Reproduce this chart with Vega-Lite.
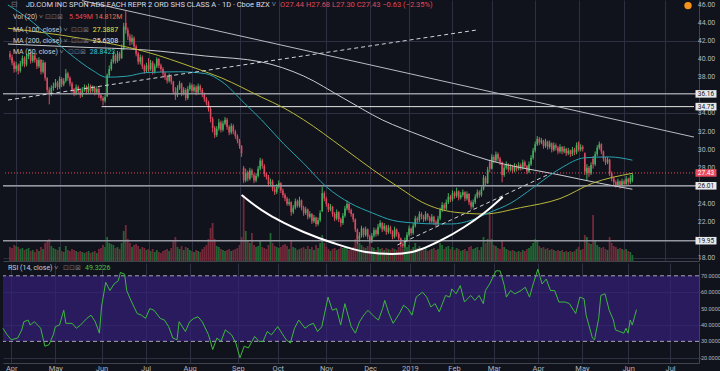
{
"$schema": "https://vega.github.io/schema/vega-lite/v6.json",
"background": "#11131c",
"padding": 0,
"config": {
  "view": {"stroke": null},
  "axis": {"gridColor": "#2c3040", "domainColor": "#40444f", "labelColor": "#b2b5be", "labelFont": "Roboto", "labelFontSize": 7, "tickColor": "#40444f"},
  "text": {"font": "Roboto"}
},
"datasets": {
"candles": [
{"i":-3,"o":40.6,"h":40.9,"l":39.9,"c":40.2,"v":14},
{"i":-2,"o":40.2,"h":40.5,"l":39.3,"c":39.6,"v":13},
{"i":-1,"o":39.6,"h":39.8,"l":38.5,"c":38.9,"v":16},
{"i":0,"o":38.9,"h":39.7,"l":38.6,"c":39.3,"v":15},
{"i":1,"o":39.3,"h":39.5,"l":38.3,"c":38.7,"v":14},
{"i":2,"o":38.7,"h":39.8,"l":38.5,"c":39.5,"v":12},
{"i":3,"o":39.5,"h":40.4,"l":39.2,"c":40.1,"v":13},
{"i":4,"o":40.1,"h":40.3,"l":39.1,"c":39.4,"v":11},
{"i":5,"o":39.4,"h":40.6,"l":39.2,"c":40.3,"v":12},
{"i":6,"o":40.3,"h":41.0,"l":40.0,"c":40.6,"v":13},
{"i":7,"o":40.6,"h":40.8,"l":39.5,"c":39.8,"v":10},
{"i":8,"o":39.8,"h":40.7,"l":39.6,"c":40.4,"v":11},
{"i":9,"o":40.4,"h":40.6,"l":39.6,"c":39.9,"v":9},
{"i":10,"o":39.9,"h":40.1,"l":38.9,"c":39.2,"v":12},
{"i":11,"o":39.2,"h":40.2,"l":39.0,"c":39.9,"v":10},
{"i":12,"o":39.9,"h":40.0,"l":38.3,"c":38.6,"v":14},
{"i":13,"o":38.6,"h":39.9,"l":38.4,"c":39.6,"v":12},
{"i":14,"o":39.6,"h":39.7,"l":37.6,"c":37.9,"v":18},
{"i":15,"o":37.9,"h":38.0,"l":36.3,"c":36.6,"v":20},
{"i":16,"o":36.6,"h":36.9,"l":35.0,"c":36.2,"v":22},
{"i":17,"o":36.2,"h":37.1,"l":35.9,"c":36.8,"v":15},
{"i":18,"o":36.8,"h":37.4,"l":36.5,"c":37.0,"v":13},
{"i":19,"o":37.0,"h":37.8,"l":36.8,"c":37.4,"v":12},
{"i":20,"o":37.4,"h":37.6,"l":36.6,"c":36.9,"v":11},
{"i":21,"o":36.9,"h":38.1,"l":36.7,"c":37.8,"v":14},
{"i":22,"o":37.8,"h":38.0,"l":36.9,"c":37.2,"v":10},
{"i":23,"o":37.2,"h":37.9,"l":37.0,"c":37.6,"v":9},
{"i":24,"o":37.6,"h":38.9,"l":37.4,"c":38.4,"v":15},
{"i":25,"o":38.4,"h":38.6,"l":37.6,"c":37.9,"v":11},
{"i":26,"o":37.9,"h":38.1,"l":37.0,"c":37.3,"v":10},
{"i":27,"o":37.3,"h":37.5,"l":36.3,"c":36.6,"v":12},
{"i":28,"o":36.6,"h":36.8,"l":35.9,"c":36.2,"v":11},
{"i":29,"o":36.2,"h":37.2,"l":36.0,"c":36.9,"v":10},
{"i":30,"o":36.9,"h":37.1,"l":36.1,"c":36.4,"v":9},
{"i":31,"o":36.4,"h":36.6,"l":35.7,"c":36.0,"v":10},
{"i":32,"o":36.0,"h":36.9,"l":35.8,"c":36.6,"v":9},
{"i":33,"o":36.6,"h":37.2,"l":36.4,"c":36.9,"v":8},
{"i":34,"o":36.9,"h":37.1,"l":36.1,"c":36.4,"v":9},
{"i":35,"o":36.4,"h":37.3,"l":36.2,"c":37.0,"v":10},
{"i":36,"o":37.0,"h":37.2,"l":36.2,"c":36.5,"v":8},
{"i":37,"o":36.5,"h":37.1,"l":36.3,"c":36.8,"v":9},
{"i":38,"o":36.8,"h":37.0,"l":36.0,"c":36.3,"v":10},
{"i":39,"o":36.3,"h":37.0,"l":36.1,"c":36.7,"v":8},
{"i":40,"o":36.7,"h":36.9,"l":35.7,"c":36.0,"v":12},
{"i":41,"o":36.0,"h":36.2,"l":35.4,"c":35.7,"v":13},
{"i":42,"o":35.7,"h":35.9,"l":34.9,"c":35.4,"v":16},
{"i":43,"o":35.4,"h":36.1,"l":35.2,"c":35.8,"v":14},
{"i":44,"o":35.9,"h":38.4,"l":35.8,"c":38.2,"v":24},
{"i":45,"o":38.2,"h":39.3,"l":38.0,"c":38.9,"v":18},
{"i":46,"o":38.9,"h":40.0,"l":38.7,"c":39.7,"v":17},
{"i":47,"o":39.7,"h":40.8,"l":39.5,"c":40.4,"v":16},
{"i":48,"o":40.4,"h":40.6,"l":39.5,"c":39.8,"v":13},
{"i":49,"o":39.8,"h":40.9,"l":39.6,"c":40.6,"v":14},
{"i":50,"o":40.6,"h":40.8,"l":39.8,"c":40.1,"v":12},
{"i":51,"o":40.1,"h":41.6,"l":40.0,"c":41.2,"v":18},
{"i":52,"o":41.2,"h":44.0,"l":41.0,"c":43.6,"v":30},
{"i":53,"o":44.0,"h":45.3,"l":42.8,"c":43.2,"v":36},
{"i":54,"o":43.2,"h":43.5,"l":42.1,"c":42.5,"v":22},
{"i":55,"o":42.5,"h":42.8,"l":41.5,"c":41.9,"v":18},
{"i":56,"o":41.9,"h":42.7,"l":41.6,"c":42.3,"v":14},
{"i":57,"o":42.3,"h":42.5,"l":41.1,"c":41.4,"v":16},
{"i":58,"o":41.4,"h":41.6,"l":40.3,"c":40.6,"v":17},
{"i":59,"o":40.6,"h":40.8,"l":39.4,"c":39.7,"v":15},
{"i":60,"o":39.7,"h":40.5,"l":39.4,"c":40.2,"v":12},
{"i":61,"o":40.2,"h":40.4,"l":38.9,"c":39.2,"v":14},
{"i":62,"o":39.2,"h":39.4,"l":38.4,"c":38.7,"v":13},
{"i":63,"o":38.7,"h":39.6,"l":38.5,"c":39.3,"v":11},
{"i":64,"o":39.3,"h":40.1,"l":38.6,"c":38.9,"v":12},
{"i":65,"o":38.9,"h":39.9,"l":38.7,"c":39.6,"v":10},
{"i":66,"o":39.6,"h":39.8,"l":38.3,"c":38.6,"v":12},
{"i":67,"o":38.6,"h":39.5,"l":38.4,"c":39.2,"v":9},
{"i":68,"o":39.2,"h":40.2,"l":39.0,"c":40.0,"v":11},
{"i":69,"o":40.0,"h":40.1,"l":39.0,"c":39.3,"v":9},
{"i":70,"o":39.3,"h":39.5,"l":38.6,"c":38.9,"v":8},
{"i":71,"o":38.9,"h":39.1,"l":38.1,"c":38.4,"v":10},
{"i":72,"o":38.4,"h":38.6,"l":37.7,"c":38.0,"v":11},
{"i":73,"o":38.0,"h":38.2,"l":37.3,"c":37.6,"v":12},
{"i":74,"o":37.6,"h":38.4,"l":37.4,"c":38.1,"v":10},
{"i":75,"o":38.1,"h":38.3,"l":37.2,"c":37.5,"v":13},
{"i":76,"o":37.5,"h":37.6,"l":36.1,"c":36.4,"v":20},
{"i":77,"o":36.4,"h":36.9,"l":35.5,"c":36.0,"v":24},
{"i":78,"o":36.0,"h":37.1,"l":35.8,"c":36.8,"v":14},
{"i":79,"o":36.8,"h":37.6,"l":36.6,"c":37.3,"v":12},
{"i":80,"o":37.3,"h":37.4,"l":35.9,"c":36.2,"v":15},
{"i":81,"o":36.2,"h":36.9,"l":36.0,"c":36.6,"v":11},
{"i":82,"o":36.6,"h":36.8,"l":35.4,"c":35.7,"v":14},
{"i":83,"o":35.7,"h":37.0,"l":35.5,"c":36.7,"v":13},
{"i":84,"o":36.7,"h":37.4,"l":36.5,"c":37.1,"v":11},
{"i":85,"o":37.1,"h":37.3,"l":36.2,"c":36.5,"v":10},
{"i":86,"o":36.5,"h":37.2,"l":36.3,"c":36.9,"v":9},
{"i":87,"o":36.9,"h":37.1,"l":36.0,"c":36.3,"v":11},
{"i":88,"o":36.3,"h":37.3,"l":36.1,"c":37.0,"v":10},
{"i":89,"o":37.0,"h":37.2,"l":36.3,"c":36.6,"v":9},
{"i":90,"o":36.6,"h":36.8,"l":35.8,"c":36.1,"v":12},
{"i":91,"o":36.1,"h":36.3,"l":35.3,"c":35.6,"v":14},
{"i":92,"o":35.6,"h":35.8,"l":34.9,"c":35.2,"v":16},
{"i":93,"o":35.2,"h":35.4,"l":34.2,"c":34.5,"v":22},
{"i":94,"o":34.5,"h":34.7,"l":33.0,"c":33.4,"v":33},
{"i":95,"o":33.4,"h":33.6,"l":31.9,"c":32.4,"v":38},
{"i":96,"o":32.4,"h":32.6,"l":31.3,"c":31.6,"v":22},
{"i":97,"o":31.6,"h":32.6,"l":31.4,"c":32.3,"v":15},
{"i":98,"o":32.3,"h":33.4,"l":32.1,"c":33.0,"v":14},
{"i":99,"o":33.0,"h":33.2,"l":31.9,"c":32.2,"v":12},
{"i":100,"o":32.2,"h":33.2,"l":32.0,"c":32.9,"v":11},
{"i":101,"o":32.9,"h":33.6,"l":32.7,"c":33.3,"v":10},
{"i":102,"o":33.3,"h":33.5,"l":32.2,"c":32.5,"v":11},
{"i":103,"o":32.5,"h":32.7,"l":31.6,"c":31.9,"v":12},
{"i":104,"o":31.9,"h":32.9,"l":31.7,"c":32.6,"v":10},
{"i":105,"o":32.6,"h":32.8,"l":31.7,"c":32.0,"v":11},
{"i":106,"o":32.0,"h":32.2,"l":31.2,"c":31.5,"v":12},
{"i":107,"o":31.5,"h":31.7,"l":30.7,"c":31.0,"v":13},
{"i":108,"o":31.0,"h":31.2,"l":30.1,"c":30.4,"v":16},
{"i":109,"o":30.4,"h":30.5,"l":29.2,"c":29.6,"v":24},
{"i":110,"o":28.0,"h":28.2,"l":26.3,"c":26.6,"v":66},
{"i":111,"o":26.6,"h":27.9,"l":26.4,"c":27.5,"v":30},
{"i":112,"o":27.5,"h":27.7,"l":26.5,"c":26.8,"v":20},
{"i":113,"o":26.8,"h":28.0,"l":26.6,"c":27.7,"v":18},
{"i":114,"o":27.7,"h":27.9,"l":26.9,"c":27.2,"v":28},
{"i":115,"o":27.2,"h":27.4,"l":26.3,"c":26.6,"v":16},
{"i":116,"o":26.6,"h":27.4,"l":26.4,"c":27.1,"v":14},
{"i":117,"o":27.1,"h":28.2,"l":26.9,"c":27.9,"v":15},
{"i":118,"o":27.9,"h":29.1,"l":27.7,"c":28.8,"v":20},
{"i":119,"o":28.8,"h":29.0,"l":27.9,"c":28.2,"v":14},
{"i":120,"o":28.2,"h":28.4,"l":27.0,"c":27.3,"v":13},
{"i":121,"o":27.3,"h":27.5,"l":26.7,"c":27.0,"v":12},
{"i":122,"o":27.0,"h":27.2,"l":25.9,"c":26.2,"v":16},
{"i":123,"o":26.2,"h":26.8,"l":26.0,"c":26.5,"v":28},
{"i":124,"o":26.5,"h":26.7,"l":25.4,"c":25.7,"v":18},
{"i":125,"o":25.7,"h":25.9,"l":25.0,"c":25.3,"v":15},
{"i":126,"o":25.3,"h":26.2,"l":25.1,"c":25.9,"v":14},
{"i":127,"o":25.9,"h":26.6,"l":25.7,"c":26.3,"v":13},
{"i":128,"o":26.3,"h":26.4,"l":25.2,"c":25.5,"v":14},
{"i":129,"o":25.5,"h":25.7,"l":24.7,"c":25.0,"v":16},
{"i":130,"o":25.0,"h":25.2,"l":24.3,"c":24.6,"v":17},
{"i":131,"o":24.6,"h":24.8,"l":23.8,"c":24.0,"v":15},
{"i":132,"o":24.0,"h":24.6,"l":23.8,"c":24.2,"v":12},
{"i":133,"o":24.2,"h":24.3,"l":22.7,"c":23.1,"v":20},
{"i":134,"o":23.1,"h":23.9,"l":22.9,"c":23.6,"v":14},
{"i":135,"o":23.6,"h":24.6,"l":23.4,"c":24.3,"v":13},
{"i":136,"o":24.3,"h":24.5,"l":23.6,"c":23.8,"v":11},
{"i":137,"o":23.8,"h":24.8,"l":23.6,"c":24.4,"v":12},
{"i":138,"o":24.4,"h":24.5,"l":23.3,"c":23.6,"v":13},
{"i":139,"o":23.6,"h":23.8,"l":22.7,"c":23.0,"v":14},
{"i":140,"o":23.0,"h":23.7,"l":22.8,"c":23.4,"v":12},
{"i":141,"o":23.4,"h":23.5,"l":22.3,"c":22.6,"v":15},
{"i":142,"o":22.6,"h":23.2,"l":22.4,"c":22.9,"v":12},
{"i":143,"o":22.9,"h":23.0,"l":21.8,"c":22.1,"v":14},
{"i":144,"o":22.1,"h":22.8,"l":21.9,"c":22.5,"v":11},
{"i":145,"o":22.5,"h":22.6,"l":21.5,"c":21.8,"v":16},
{"i":146,"o":21.8,"h":22.5,"l":21.6,"c":22.2,"v":13},
{"i":147,"o":22.2,"h":23.3,"l":22.0,"c":23.0,"v":18},
{"i":148,"o":23.2,"h":25.9,"l":23.1,"c":25.2,"v":26},
{"i":149,"o":25.2,"h":25.4,"l":24.3,"c":24.6,"v":18},
{"i":150,"o":24.6,"h":24.8,"l":23.7,"c":24.0,"v":14},
{"i":151,"o":24.0,"h":24.1,"l":23.1,"c":23.4,"v":12},
{"i":152,"o":23.4,"h":24.0,"l":23.2,"c":23.7,"v":10},
{"i":153,"o":23.7,"h":23.8,"l":22.6,"c":22.9,"v":12},
{"i":154,"o":22.9,"h":23.1,"l":22.1,"c":22.4,"v":13},
{"i":155,"o":22.4,"h":23.4,"l":22.2,"c":23.1,"v":11},
{"i":156,"o":23.1,"h":23.2,"l":22.0,"c":22.3,"v":12},
{"i":157,"o":22.3,"h":22.5,"l":21.5,"c":21.9,"v":14},
{"i":158,"o":21.9,"h":23.0,"l":21.7,"c":22.7,"v":13},
{"i":159,"o":22.7,"h":23.8,"l":22.5,"c":23.5,"v":15},
{"i":160,"o":23.5,"h":24.4,"l":23.3,"c":24.0,"v":14},
{"i":161,"o":24.0,"h":24.1,"l":23.0,"c":23.3,"v":11},
{"i":162,"o":23.3,"h":23.5,"l":22.6,"c":22.9,"v":12},
{"i":163,"o":22.9,"h":23.0,"l":22.0,"c":22.3,"v":14},
{"i":164,"o":22.3,"h":22.4,"l":20.9,"c":21.2,"v":22},
{"i":165,"o":21.2,"h":21.3,"l":19.6,"c":20.1,"v":26},
{"i":166,"o":20.1,"h":20.9,"l":19.8,"c":20.5,"v":18},
{"i":167,"o":20.5,"h":21.6,"l":20.3,"c":21.3,"v":16},
{"i":168,"o":21.3,"h":21.4,"l":20.3,"c":20.6,"v":14},
{"i":169,"o":20.6,"h":21.5,"l":20.4,"c":21.2,"v":13},
{"i":170,"o":21.2,"h":21.3,"l":20.1,"c":20.4,"v":15},
{"i":171,"o":20.4,"h":20.6,"l":19.6,"c":19.9,"v":17},
{"i":172,"o":19.9,"h":20.8,"l":19.7,"c":20.5,"v":14},
{"i":173,"o":20.5,"h":21.4,"l":20.3,"c":21.1,"v":13},
{"i":174,"o":21.1,"h":21.3,"l":20.4,"c":20.7,"v":11},
{"i":175,"o":20.7,"h":21.8,"l":20.5,"c":21.5,"v":14},
{"i":176,"o":21.5,"h":22.2,"l":21.3,"c":21.9,"v":12},
{"i":177,"o":21.9,"h":22.0,"l":20.9,"c":21.2,"v":13},
{"i":178,"o":21.2,"h":21.9,"l":21.0,"c":21.6,"v":11},
{"i":179,"o":21.6,"h":21.7,"l":20.6,"c":20.9,"v":13},
{"i":180,"o":20.9,"h":21.7,"l":20.7,"c":21.4,"v":12},
{"i":181,"o":21.4,"h":21.6,"l":20.7,"c":21.0,"v":11},
{"i":182,"o":21.0,"h":21.1,"l":20.1,"c":20.4,"v":13},
{"i":183,"o":20.4,"h":21.5,"l":20.2,"c":21.2,"v":12},
{"i":184,"o":21.2,"h":21.3,"l":20.4,"c":20.7,"v":11},
{"i":185,"o":20.7,"h":20.9,"l":19.9,"c":20.2,"v":14},
{"i":186,"o":20.2,"h":20.3,"l":19.3,"c":19.6,"v":16},
{"i":187,"o":19.6,"h":19.8,"l":19.1,"c":19.4,"v":12},
{"i":188,"o":19.4,"h":20.3,"l":19.2,"c":20.0,"v":15},
{"i":189,"o":20.0,"h":20.9,"l":19.8,"c":20.6,"v":14},
{"i":190,"o":20.6,"h":21.6,"l":20.4,"c":21.3,"v":16},
{"i":191,"o":21.3,"h":21.4,"l":20.5,"c":20.8,"v":12},
{"i":192,"o":20.8,"h":21.9,"l":20.6,"c":21.6,"v":14},
{"i":193,"o":21.6,"h":22.7,"l":21.4,"c":22.4,"v":18},
{"i":194,"o":22.4,"h":22.6,"l":21.9,"c":22.2,"v":13},
{"i":195,"o":22.2,"h":23.2,"l":22.0,"c":22.9,"v":15},
{"i":196,"o":22.9,"h":23.1,"l":22.3,"c":22.6,"v":12},
{"i":197,"o":22.6,"h":22.8,"l":22.0,"c":22.3,"v":11},
{"i":198,"o":22.3,"h":23.2,"l":22.1,"c":22.9,"v":13},
{"i":199,"o":22.9,"h":23.0,"l":22.2,"c":22.5,"v":10},
{"i":200,"o":22.5,"h":22.7,"l":21.8,"c":22.1,"v":11},
{"i":201,"o":22.1,"h":22.9,"l":21.9,"c":22.6,"v":12},
{"i":202,"o":22.6,"h":22.7,"l":21.7,"c":22.0,"v":13},
{"i":203,"o":22.0,"h":22.2,"l":21.5,"c":21.8,"v":11},
{"i":204,"o":21.8,"h":22.7,"l":21.6,"c":22.4,"v":12},
{"i":205,"o":22.4,"h":23.6,"l":22.2,"c":23.3,"v":18},
{"i":206,"o":23.3,"h":24.2,"l":23.1,"c":23.9,"v":16},
{"i":207,"o":23.9,"h":24.1,"l":23.2,"c":23.5,"v":12},
{"i":208,"o":23.5,"h":24.5,"l":23.3,"c":24.2,"v":14},
{"i":209,"o":24.2,"h":25.2,"l":24.0,"c":24.8,"v":15},
{"i":210,"o":24.8,"h":25.0,"l":24.2,"c":24.5,"v":12},
{"i":211,"o":24.5,"h":25.5,"l":24.3,"c":25.2,"v":14},
{"i":212,"o":25.2,"h":25.4,"l":24.6,"c":24.9,"v":11},
{"i":213,"o":24.9,"h":25.8,"l":24.7,"c":25.4,"v":13},
{"i":214,"o":25.4,"h":25.5,"l":24.4,"c":24.7,"v":12},
{"i":215,"o":24.7,"h":25.3,"l":24.5,"c":25.0,"v":10},
{"i":216,"o":25.0,"h":25.6,"l":24.8,"c":25.3,"v":11},
{"i":217,"o":25.3,"h":25.4,"l":24.3,"c":24.6,"v":12},
{"i":218,"o":24.6,"h":25.4,"l":24.4,"c":25.1,"v":10},
{"i":219,"o":25.1,"h":25.2,"l":23.9,"c":24.2,"v":14},
{"i":220,"o":24.2,"h":24.4,"l":23.4,"c":23.7,"v":15},
{"i":221,"o":23.7,"h":24.5,"l":23.5,"c":24.2,"v":12},
{"i":222,"o":24.2,"h":25.1,"l":24.0,"c":24.8,"v":13},
{"i":223,"o":24.8,"h":25.6,"l":24.6,"c":25.3,"v":14},
{"i":224,"o":25.3,"h":25.5,"l":24.7,"c":25.0,"v":11},
{"i":225,"o":25.0,"h":25.9,"l":24.8,"c":25.6,"v":14},
{"i":226,"o":25.6,"h":27.2,"l":25.5,"c":26.9,"v":24},
{"i":227,"o":26.9,"h":27.1,"l":26.0,"c":26.3,"v":18},
{"i":228,"o":26.3,"h":28.1,"l":26.2,"c":27.8,"v":22},
{"i":229,"o":28.6,"h":28.9,"l":27.5,"c":27.9,"v":48},
{"i":230,"o":27.9,"h":29.5,"l":27.8,"c":29.2,"v":22},
{"i":231,"o":29.2,"h":29.4,"l":28.5,"c":28.8,"v":16},
{"i":232,"o":28.8,"h":29.8,"l":28.6,"c":29.5,"v":15},
{"i":233,"o":29.5,"h":29.7,"l":28.7,"c":29.0,"v":13},
{"i":234,"o":29.0,"h":29.2,"l":28.3,"c":28.6,"v":12},
{"i":235,"o":28.6,"h":28.7,"l":26.4,"c":27.2,"v":20},
{"i":236,"o":27.2,"h":28.3,"l":27.0,"c":28.0,"v":14},
{"i":237,"o":28.0,"h":28.7,"l":27.8,"c":28.4,"v":12},
{"i":238,"o":28.4,"h":28.5,"l":27.5,"c":27.8,"v":11},
{"i":239,"o":27.8,"h":28.4,"l":27.6,"c":28.1,"v":10},
{"i":240,"o":28.1,"h":28.3,"l":27.4,"c":27.7,"v":11},
{"i":241,"o":27.7,"h":28.5,"l":27.5,"c":28.2,"v":10},
{"i":242,"o":28.2,"h":28.4,"l":27.6,"c":27.9,"v":9},
{"i":243,"o":27.9,"h":28.6,"l":27.7,"c":28.3,"v":10},
{"i":244,"o":28.3,"h":28.5,"l":27.7,"c":28.0,"v":9},
{"i":245,"o":28.0,"h":28.9,"l":27.8,"c":28.6,"v":11},
{"i":246,"o":28.6,"h":28.8,"l":27.9,"c":28.2,"v":10},
{"i":247,"o":28.2,"h":28.3,"l":27.3,"c":27.6,"v":12},
{"i":248,"o":27.6,"h":28.7,"l":27.4,"c":28.4,"v":13},
{"i":249,"o":28.4,"h":29.4,"l":28.2,"c":29.1,"v":15},
{"i":250,"o":29.1,"h":30.2,"l":28.9,"c":29.9,"v":18},
{"i":251,"o":29.9,"h":30.9,"l":29.7,"c":30.6,"v":22},
{"i":252,"o":30.6,"h":31.5,"l":30.4,"c":31.2,"v":20},
{"i":253,"o":31.2,"h":31.4,"l":30.5,"c":30.8,"v":15},
{"i":254,"o":30.8,"h":31.3,"l":30.6,"c":31.0,"v":13},
{"i":255,"o":31.0,"h":31.1,"l":30.1,"c":30.4,"v":14},
{"i":256,"o":30.4,"h":31.2,"l":30.2,"c":30.9,"v":12},
{"i":257,"o":30.9,"h":31.0,"l":30.0,"c":30.3,"v":13},
{"i":258,"o":30.3,"h":31.0,"l":30.1,"c":30.7,"v":11},
{"i":259,"o":30.7,"h":30.8,"l":29.7,"c":30.0,"v":12},
{"i":260,"o":30.0,"h":30.8,"l":29.8,"c":30.5,"v":11},
{"i":261,"o":30.5,"h":30.7,"l":29.9,"c":30.2,"v":10},
{"i":262,"o":30.2,"h":30.4,"l":29.5,"c":29.8,"v":11},
{"i":263,"o":29.8,"h":30.6,"l":29.6,"c":30.3,"v":10},
{"i":264,"o":30.3,"h":30.4,"l":29.5,"c":29.8,"v":11},
{"i":265,"o":29.8,"h":30.4,"l":29.6,"c":30.1,"v":9},
{"i":266,"o":30.1,"h":30.2,"l":29.3,"c":29.6,"v":10},
{"i":267,"o":29.6,"h":30.2,"l":29.4,"c":29.9,"v":9},
{"i":268,"o":29.9,"h":30.0,"l":29.2,"c":29.5,"v":10},
{"i":269,"o":29.5,"h":30.3,"l":29.3,"c":30.0,"v":9},
{"i":270,"o":30.0,"h":30.2,"l":29.4,"c":29.7,"v":10},
{"i":271,"o":29.7,"h":30.8,"l":29.5,"c":30.5,"v":12},
{"i":272,"o":30.8,"h":30.9,"l":29.8,"c":30.0,"v":14},
{"i":273,"o":30.0,"h":30.6,"l":29.8,"c":30.3,"v":11},
{"i":274,"o":30.3,"h":30.5,"l":29.8,"c":30.1,"v":12},
{"i":275,"o":29.6,"h":29.7,"l":27.2,"c":27.6,"v":26},
{"i":276,"o":27.4,"h":28.4,"l":26.6,"c":28.0,"v":24},
{"i":277,"o":28.0,"h":28.2,"l":27.0,"c":27.4,"v":18},
{"i":278,"o":27.4,"h":28.6,"l":27.2,"c":28.3,"v":17},
{"i":279,"o":29.0,"h":29.3,"l":27.9,"c":28.4,"v":46},
{"i":280,"o":28.4,"h":29.8,"l":28.2,"c":29.5,"v":20},
{"i":281,"o":29.5,"h":30.5,"l":29.3,"c":30.2,"v":16},
{"i":282,"o":30.2,"h":30.9,"l":30.0,"c":30.6,"v":14},
{"i":283,"o":30.6,"h":30.7,"l":29.5,"c":29.8,"v":13},
{"i":284,"o":29.8,"h":29.9,"l":28.7,"c":29.0,"v":14},
{"i":285,"o":29.0,"h":29.2,"l":28.3,"c":28.6,"v":12},
{"i":286,"o":28.6,"h":29.2,"l":28.4,"c":28.9,"v":11},
{"i":287,"o":28.9,"h":29.0,"l":27.1,"c":27.4,"v":24},
{"i":288,"o":27.4,"h":27.6,"l":26.5,"c":26.8,"v":18},
{"i":289,"o":26.8,"h":27.0,"l":26.1,"c":26.4,"v":15},
{"i":290,"o":26.4,"h":26.6,"l":25.8,"c":26.1,"v":14},
{"i":291,"o":26.1,"h":26.8,"l":25.9,"c":26.5,"v":12},
{"i":292,"o":26.5,"h":26.6,"l":25.7,"c":26.0,"v":13},
{"i":293,"o":26.0,"h":26.8,"l":25.8,"c":26.5,"v":12},
{"i":294,"o":26.5,"h":26.7,"l":25.9,"c":26.2,"v":11},
{"i":295,"o":26.2,"h":27.1,"l":26.0,"c":26.8,"v":12},
{"i":296,"o":26.8,"h":26.9,"l":26.1,"c":26.4,"v":10},
{"i":297,"o":26.4,"h":27.2,"l":26.2,"c":26.9,"v":9},
{"i":298,"o":26.6,"h":27.4,"l":26.4,"c":27.2,"v":6}
],
"ma50": [{"i":-4,"p":45.97},{"i":5.6,"p":44.5},{"i":16.5,"p":42.4},{"i":28,"p":40.2},{"i":36.6,"p":38.8},{"i":43.7,"p":38.0},{"i":53.3,"p":38.1},{"i":62.8,"p":38.5},{"i":78.5,"p":38.6},{"i":91.4,"p":38.4},{"i":99.5,"p":37.5},{"i":110.5,"p":35.1},{"i":118.6,"p":33.3},{"i":129.5,"p":30.6},{"i":139,"p":28.5},{"i":150,"p":25.9},{"i":161.5,"p":24.1},{"i":172.4,"p":23.0},{"i":182,"p":22.2},{"i":193,"p":21.9},{"i":203.4,"p":21.8},{"i":210.6,"p":21.8},{"i":220,"p":22.2},{"i":228.2,"p":23.0},{"i":239.2,"p":24.1},{"i":250,"p":25.8},{"i":263,"p":27.9},{"i":274.9,"p":29.1},{"i":286.9,"p":29.2},{"i":298,"p":28.84}],
"ma100": [{"i":-4,"p":43.4},{"i":31,"p":42.3},{"i":62.8,"p":40.8},{"i":86.6,"p":39.0},{"i":99.5,"p":37.9},{"i":118.6,"p":35.8},{"i":129.5,"p":34.6},{"i":139,"p":33.3},{"i":158.1,"p":30.2},{"i":172.4,"p":27.8},{"i":185.3,"p":25.8},{"i":196.3,"p":24.2},{"i":212,"p":23.1},{"i":226.3,"p":22.9},{"i":243.9,"p":23.6},{"i":263,"p":24.6},{"i":278.8,"p":26.3},{"i":298,"p":27.39}],
"ma200": [{"i":-4,"p":41.66},{"i":29.4,"p":41.33},{"i":62.8,"p":41.0},{"i":91.4,"p":40.34},{"i":118.6,"p":39.68},{"i":139,"p":38.13},{"i":158.1,"p":35.7},{"i":177.2,"p":33.27},{"i":196.3,"p":31.5},{"i":228.2,"p":28.85},{"i":263,"p":27.2},{"i":282.1,"p":26.3},{"i":298,"p":25.63}],
"arc": [{"i":109.0,"p":25.0},{"i":115.2,"p":23.89},{"i":122.4,"p":22.79},{"i":129.5,"p":21.91},{"i":139.0,"p":20.91},{"i":153.3,"p":19.7},{"i":169.1,"p":18.71},{"i":181.9,"p":18.48},{"i":191.5,"p":18.71},{"i":196.2,"p":19.04},{"i":205.8,"p":20.03},{"i":216.7,"p":21.46},{"i":226.3,"p":23.01},{"i":235.3,"p":24.78}],
"rsi": [{"i":-4,"r":38},{"i":-2,"r":34},{"i":0,"r":31},{"i":3,"r":32},{"i":5,"r":37},{"i":6,"r":42},{"i":8,"r":43},{"i":9,"r":40},{"i":11,"r":42},{"i":14,"r":38},{"i":16,"r":27},{"i":18,"r":28},{"i":20,"r":34},{"i":21,"r":39},{"i":23,"r":40},{"i":25,"r":49},{"i":26,"r":41},{"i":29,"r":41},{"i":31,"r":38},{"i":33,"r":40},{"i":36,"r":44},{"i":38,"r":46},{"i":40,"r":42},{"i":42,"r":35},{"i":43,"r":51},{"i":45,"r":66},{"i":47,"r":61},{"i":49,"r":65},{"i":51,"r":67},{"i":52,"r":72},{"i":54,"r":71},{"i":55,"r":61},{"i":57,"r":55},{"i":60,"r":47},{"i":62,"r":46},{"i":64,"r":44},{"i":66,"r":50},{"i":68,"r":49},{"i":71,"r":44},{"i":73,"r":43},{"i":75,"r":39},{"i":77,"r":32},{"i":79,"r":31},{"i":80,"r":42},{"i":83,"r":36},{"i":85,"r":42},{"i":87,"r":44},{"i":89,"r":45},{"i":91,"r":42},{"i":94,"r":34},{"i":96,"r":25},{"i":98,"r":32},{"i":100,"r":30},{"i":102,"r":37},{"i":105,"r":34},{"i":107,"r":29},{"i":109,"r":20},{"i":111,"r":27},{"i":113,"r":26},{"i":116,"r":33},{"i":118,"r":30},{"i":120,"r":30},{"i":122,"r":36},{"i":124,"r":34},{"i":127,"r":39},{"i":129,"r":35},{"i":131,"r":31},{"i":133,"r":29},{"i":135,"r":38},{"i":137,"r":43},{"i":140,"r":38},{"i":142,"r":40},{"i":144,"r":41},{"i":146,"r":36},{"i":148,"r":39},{"i":151,"r":57},{"i":153,"r":49},{"i":155,"r":50},{"i":157,"r":40},{"i":159,"r":53},{"i":162,"r":39},{"i":164,"r":35},{"i":166,"r":42},{"i":168,"r":46},{"i":170,"r":49},{"i":173,"r":45},{"i":175,"r":43},{"i":177,"r":50},{"i":178,"r":55},{"i":180,"r":47},{"i":182,"r":41},{"i":185,"r":47},{"i":187,"r":52},{"i":189,"r":50},{"i":191,"r":46},{"i":193,"r":57},{"i":196,"r":60},{"i":198,"r":57},{"i":200,"r":51},{"i":202,"r":53},{"i":204,"r":48},{"i":207,"r":58},{"i":209,"r":57},{"i":210,"r":62},{"i":212,"r":59},{"i":214,"r":64},{"i":216,"r":54},{"i":219,"r":58},{"i":221,"r":55},{"i":223,"r":58},{"i":225,"r":53},{"i":226,"r":61},{"i":228,"r":65},{"i":231,"r":73},{"i":233,"r":73},{"i":235,"r":64},{"i":236,"r":57},{"i":238,"r":61},{"i":240,"r":59},{"i":243,"r":61},{"i":245,"r":63},{"i":247,"r":57},{"i":249,"r":66},{"i":251,"r":74},{"i":253,"r":65},{"i":255,"r":68},{"i":257,"r":61},{"i":259,"r":61},{"i":261,"r":54},{"i":264,"r":54},{"i":266,"r":53},{"i":268,"r":49},{"i":269,"r":47},{"i":271,"r":57},{"i":273,"r":56},{"i":274,"r":46},{"i":277,"r":32},{"i":278,"r":31},{"i":280,"r":44},{"i":281,"r":58},{"i":283,"r":59},{"i":285,"r":49},{"i":287,"r":43},{"i":288,"r":37},{"i":290,"r":36},{"i":292,"r":35},{"i":293,"r":38},{"i":294,"r":35},{"i":295,"r":43},{"i":296,"r":40},{"i":298,"r":49.32}],
"head": [
{"i":-2.6,"p":45.97,"t":"⊟","k":"icon"},
{"i":4.6,"p":45.97,"t":"JD.COM INC SPON ADS EACH REPR 2 ORD SHS CLASS A · 1D · Cboe BZX ˅","k":"title"},
{"i":127.6,"p":45.97,"t":"O27.44 H27.68 L27.30 C27.43 −0.63 (−2.35%)","k":"red"}
],
"legend": [
{"i":-1.6,"p":44.61,"t":"Vol (20) ˅","k":"label"},
{"i":14.15,"p":44.61,"t":"⊡⊡⊠","k":"icon"},
{"i":25.6,"p":44.61,"t":"5.549M","k":"red"},
{"i":38.0,"p":44.61,"t":"14.812M","k":"orange"},
{"i":-1.6,"p":43.21,"t":"MA (100, close) ˅","k":"label"},
{"i":26.6,"p":43.21,"t":"⊡⊡⊠","k":"icon"},
{"i":37.0,"p":43.21,"t":"27.3887","k":"yellow"},
{"i":-1.6,"p":42.03,"t":"MA (200, close) ˅","k":"label"},
{"i":26.6,"p":42.03,"t":"⊡⊡⊠","k":"icon"},
{"i":37.0,"p":42.03,"t":"25.6308","k":"white"},
{"i":-1.6,"p":40.81,"t":"MA (50, close) ˅","k":"label"},
{"i":25.1,"p":40.81,"t":"⊡⊡⊠","k":"icon"},
{"i":35.6,"p":40.81,"t":"28.8423","k":"cyan"}
],
"plabels": [{"p":18,"t":"18.00"},{"p":20,"t":"20.00"},{"p":22,"t":"22.00"},{"p":24,"t":"24.00"},{"p":26,"t":"26.00"},{"p":28,"t":"28.00"},{"p":30,"t":"30.00"},{"p":32,"t":"32.00"},{"p":34,"t":"34.00"},{"p":36,"t":"36.00"},{"p":38,"t":"38.00"},{"p":40,"t":"40.00"},{"p":42,"t":"42.00"},{"p":44,"t":"44.00"},{"p":46,"t":"46.00"}],
"rlabels": [{"r":20,"t":"20.0000"},{"r":30,"t":"30.0000"},{"r":40,"t":"40.0000"},{"r":50,"t":"50.0000"},{"r":60,"t":"60.0000"},{"r":70,"t":"70.0000"}],
"tags": [{"p":36.16,"t":"36.16","k":"white"},{"p":34.75,"t":"34.75","k":"white"},{"p":27.43,"t":"27.43","k":"red"},{"p":26.01,"t":"26.01","k":"white"},{"p":19.95,"t":"19.95","k":"white"}],
"rsitext": [{"i":-1.6,"r":74.6,"t":"RSI (14, close) ˅","k":"label"},{"i":24.6,"r":74.6,"t":"⊡⊡⊠","k":"icon"},{"i":35.1,"r":74.6,"t":"49.3226","k":"green"}]
},
"spacing": 1,
"resolve": {"scale": {"x": "independent"}},
"vconcat": [
{
 "width": 696, "height": 261,
 "resolve": {"scale": {"y": "independent"}},
 "layer": [
  {
   "data": {"name": "candles"},
   "mark": {"type": "bar", "size": 1.8},
   "encoding": {
    "x": {"field": "i", "type": "quantitative", "scale": {"domain": [-3.96, 327.8], "nice": false, "zero": false},
          "axis": {"orient": "bottom", "values": [0,21,43,64,85,108,127,150,171,190,211,230,251,272,294,314], "labels": false, "ticks": false, "grid": true, "domain": true, "title": null}},
    "y": {"field": "v", "type": "quantitative", "scale": {"domain": [0, 261], "nice": false}, "axis": null},
    "color": {"condition": {"test": "datum.c >= datum.o", "value": "#206632"}, "value": "#72293a"}
   }
  },
  {
   "layer": [
    {
     "data": {"name": "candles"},
     "mark": {"type": "rule", "strokeWidth": 1},
     "encoding": {
      "x": {"field": "i", "type": "quantitative", "scale": {"domain": [-3.96, 327.8], "nice": false, "zero": false}},
      "y": {"field": "l", "type": "quantitative", "scale": {"domain": [17.71, 46.52], "nice": false, "zero": false},
            "axis": {"orient": "right", "values": [18,20,22,24,26,28,30,32,34,36,38,40,42,44,46], "labels": false, "grid": true, "ticks": true, "tickSize": 2, "domain": true, "title": null}},
      "y2": {"field": "h"},
      "color": {"condition": {"test": "datum.c >= datum.o", "value": "#41b05c"}, "value": "#dc4a60"}
     }
    },
    {
     "data": {"name": "candles"},
     "mark": {"type": "bar", "size": 1.6},
     "encoding": {
      "x": {"field": "i", "type": "quantitative"},
      "y": {"field": "o", "type": "quantitative"},
      "y2": {"field": "c"},
      "color": {"condition": {"test": "datum.c >= datum.o", "value": "#41b05c"}, "value": "#dc4a60"}
     }
    },
    {
     "data": {"values": [{"p": 36.16}, {"p": 26.01}, {"p": 19.95}]},
     "mark": {"type": "rule", "stroke": "#9598a1", "strokeWidth": 1.5},
     "encoding": {"y": {"field": "p", "type": "quantitative"}}
    },
    {
     "data": {"values": [{"i1": 41.3, "i2": 327.8, "p": 34.75}]},
     "mark": {"type": "rule", "stroke": "#e6e6e6", "strokeWidth": 1},
     "encoding": {"x": {"field": "i1", "type": "quantitative"}, "x2": {"field": "i2"}, "y": {"field": "p", "type": "quantitative"}}
    },
    {
     "data": {"values": [{"p": 27.43}]},
     "mark": {"type": "rule", "stroke": "#e8495c", "strokeWidth": 1, "strokeDash": [1, 2]},
     "encoding": {"y": {"field": "p", "type": "quantitative"}}
    },
    {
     "data": {"name": "ma200"},
     "mark": {"type": "line", "stroke": "#c9cbd1", "strokeWidth": 1, "interpolate": "monotone"},
     "encoding": {"x": {"field": "i", "type": "quantitative"}, "y": {"field": "p", "type": "quantitative"}}
    },
    {
     "data": {"name": "ma100"},
     "mark": {"type": "line", "stroke": "#b8b83a", "strokeWidth": 1, "interpolate": "monotone"},
     "encoding": {"x": {"field": "i", "type": "quantitative"}, "y": {"field": "p", "type": "quantitative"}}
    },
    {
     "data": {"name": "ma50"},
     "mark": {"type": "line", "stroke": "#27a3b0", "strokeWidth": 1, "interpolate": "monotone"},
     "encoding": {"x": {"field": "i", "type": "quantitative"}, "y": {"field": "p", "type": "quantitative"}}
    },
    {
     "data": {"values": [{"i1": 31.8, "p1": 46.45, "i2": 327.8, "p2": 31.39}]},
     "mark": {"type": "rule", "stroke": "#b8bac2", "strokeWidth": 1},
     "encoding": {"x": {"field": "i1", "type": "quantitative"}, "y": {"field": "p1", "type": "quantitative"}, "x2": {"field": "i2"}, "y2": {"field": "p2"}}
    },
    {
     "data": {"values": [{"i1": -3.96, "p1": 35.48, "i2": 222.5, "p2": 43.2}, {"i1": 184.4, "p1": 19.48, "i2": 256.8, "p2": 27.2}]},
     "mark": {"type": "rule", "stroke": "#d0d2d8", "strokeWidth": 1, "strokeDash": [4, 3]},
     "encoding": {"x": {"field": "i1", "type": "quantitative"}, "y": {"field": "p1", "type": "quantitative"}, "x2": {"field": "i2"}, "y2": {"field": "p2"}}
    },
    {
     "data": {"name": "arc"},
     "mark": {"type": "line", "stroke": "#ffffff", "strokeWidth": 2, "interpolate": "monotone"},
     "encoding": {"x": {"field": "i", "type": "quantitative"}, "y": {"field": "p", "type": "quantitative"}}
    },
    {
     "data": {"name": "plabels"},
     "mark": {"type": "text", "fontSize": 7, "align": "left", "baseline": "middle", "color": "#b2b5be"},
     "encoding": {"x": {"datum": 329.6}, "y": {"field": "p", "type": "quantitative"}, "text": {"field": "t"}}
    },
    {
     "data": {"name": "tags"},
     "mark": {"type": "point", "shape": "M-1,-0.36H1V0.36H-1Z", "size": 441, "filled": true, "opacity": 1},
     "encoding": {"x": {"datum": 333.6}, "y": {"field": "p", "type": "quantitative"},
                  "color": {"condition": {"test": "datum.k == 'red'", "value": "#e8495c"}, "value": "#e9e9ec"}}
    },
    {
     "data": {"name": "tags"},
     "mark": {"type": "text", "fontSize": 6.5, "align": "center", "baseline": "middle"},
     "encoding": {"x": {"datum": 333.6}, "y": {"field": "p", "type": "quantitative"}, "text": {"field": "t"},
                  "color": {"condition": {"test": "datum.k == 'red'", "value": "#ffffff"}, "value": "#131722"}}
    },
    {
     "data": {"values": [{"i": 324.9, "p": 45.9}]},
     "mark": {"type": "point", "filled": true, "size": 55, "color": "#f7931a", "opacity": 1},
     "encoding": {"x": {"field": "i", "type": "quantitative"}, "y": {"field": "p", "type": "quantitative"}}
    },
    {
     "data": {"name": "head"},
     "mark": {"type": "text", "fontSize": 7.5, "align": "left", "baseline": "middle"},
     "encoding": {"x": {"field": "i", "type": "quantitative"}, "y": {"field": "p", "type": "quantitative"}, "text": {"field": "t"},
                  "color": {"field": "k", "type": "nominal", "legend": null, "scale": {"domain": ["title","label","icon","red","orange","yellow","white","cyan","green"], "range": ["#d9dce3","#c8cbd3","#6b6f7a","#e0485a","#f0704a","#e3e34a","#e6e6e6","#2fc6d9","#45c83e"]}}}
    },
    {
     "data": {"name": "legend"},
     "mark": {"type": "text", "fontSize": 7, "align": "left", "baseline": "middle"},
     "encoding": {"x": {"field": "i", "type": "quantitative"}, "y": {"field": "p", "type": "quantitative"}, "text": {"field": "t"},
                  "color": {"field": "k", "type": "nominal", "legend": null}}
    }
   ]
  }
 ]
},
{
 "width": 696, "height": 100,
 "layer": [
  {
   "data": {"values": [{"lo": 30, "hi": 70}]},
   "mark": {"type": "rect", "color": "#34207a", "opacity": 0.7},
   "encoding": {
    "x": {"datum": -3.96, "type": "quantitative", "scale": {"domain": [-3.96, 327.8], "nice": false, "zero": false},
          "axis": {"orient": "bottom", "values": [0,21,43,64,85,108,127,150,171,190,211,230,251,272,294,314], "labelExpr": "['Apr','May','Jun','Jul','Aug','Sep','Oct','Nov','Dec','2019','Feb','Mar','Apr','May','Jun','Jul'][indexof([0,21,43,64,85,108,127,150,171,190,211,230,251,272,294,314], datum.value)]", "ticks": false, "grid": true, "domain": true, "labelPadding": 1, "labelFontSize": 7.5, "labelFlush": false, "labelOverlap": false, "title": null}},
    "x2": {"datum": 327.8},
    "y": {"field": "lo", "type": "quantitative", "scale": {"domain": [16.8, 77.8], "nice": false, "zero": false},
          "axis": {"orient": "right", "values": [20,30,40,50,60,70], "labels": false, "grid": true, "ticks": true, "tickSize": 2, "domain": true, "title": null}},
    "y2": {"field": "hi"}
   }
  },
  {
   "data": {"values": [{"r": 70}, {"r": 30}]},
   "mark": {"type": "rule", "stroke": "#a4a4b4", "strokeWidth": 1, "strokeDash": [4, 3]},
   "encoding": {"y": {"field": "r", "type": "quantitative"}}
  },
  {
   "data": {"name": "rsi"},
   "mark": {"type": "line", "stroke": "#3cb83c", "strokeWidth": 1},
   "encoding": {"x": {"field": "i", "type": "quantitative"}, "y": {"field": "r", "type": "quantitative"}}
  },
  {
   "data": {"name": "rlabels"},
   "mark": {"type": "text", "fontSize": 5.5, "align": "left", "baseline": "middle", "color": "#b2b5be"},
   "encoding": {"x": {"datum": 328.7}, "y": {"field": "r", "type": "quantitative"}, "text": {"field": "t"}}
  },
  {
   "data": {"name": "rsitext"},
   "mark": {"type": "text", "fontSize": 7, "align": "left", "baseline": "middle"},
   "encoding": {"x": {"field": "i", "type": "quantitative"}, "y": {"field": "r", "type": "quantitative"}, "text": {"field": "t"},
                "color": {"field": "k", "type": "nominal", "legend": null, "scale": {"domain": ["label","icon","green"], "range": ["#c8cbd3","#6b6f7a","#45c83e"]}}}
  }
 ]
}
]
}
